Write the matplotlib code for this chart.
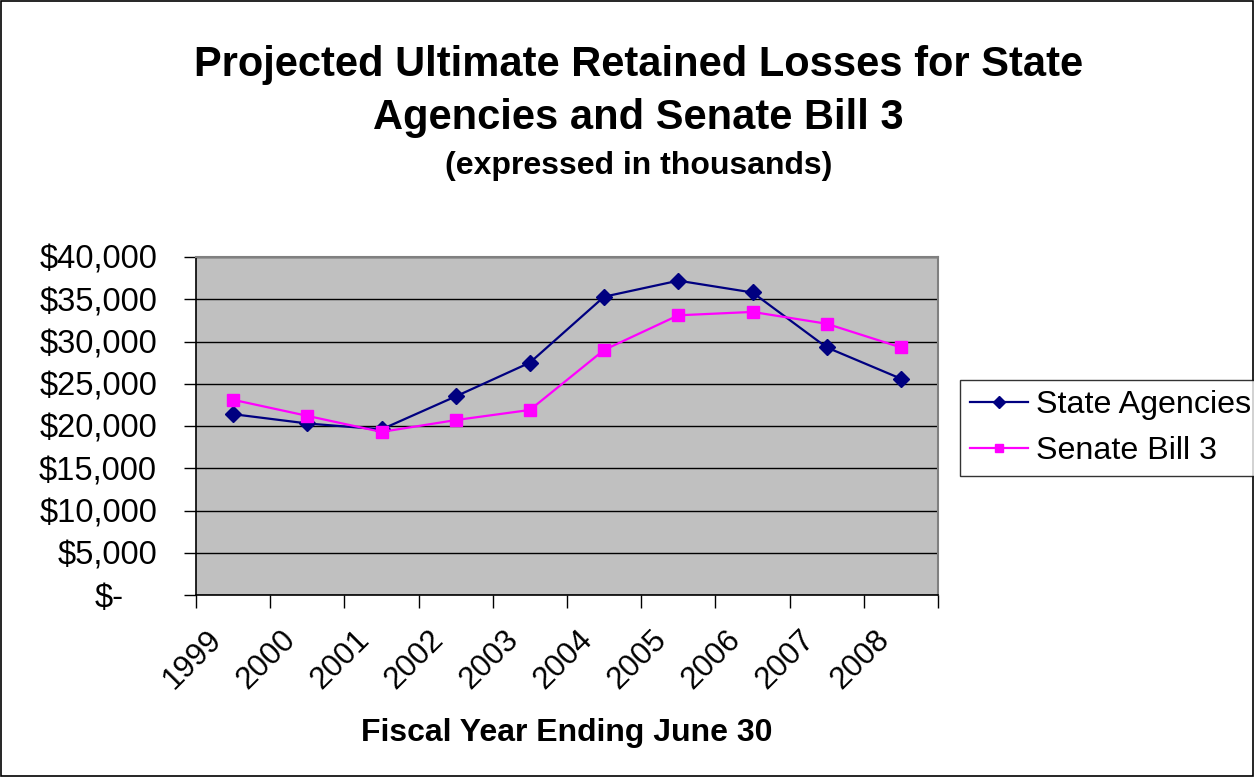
import numpy as np
import matplotlib
matplotlib.use("Agg")
import matplotlib.pyplot as plt
from matplotlib.patches import Rectangle
from matplotlib.ticker import FuncFormatter, FixedLocator
from matplotlib.transforms import ScaledTranslation

plt.rcParams['font.family'] = ['Liberation Sans', 'DejaVu Sans']

# data (thousands of dollars)
years = ['1999', '2000', '2001', '2002', '2003', '2004', '2005', '2006', '2007', '2008']
state_agencies = [21400, 20300, 19600, 23500, 27500, 35300, 37200, 35800, 29300, 25600]
senate_bill_3 = [23100, 21200, 19300, 20700, 21900, 29000, 33100, 33500, 32100, 29300]

fig = plt.figure(figsize=(12.54, 7.77), dpi=100)
ax = fig.add_axes([196/1254, 1 - 595/777, (938 - 196)/1254, (595 - 257)/777])

x = np.arange(len(years))
ax.plot(x, state_agencies, color='#000080', marker='D', markersize=8.5, lw=1.6,
        label='State Agencies', zorder=3)
ax.plot(x, senate_bill_3, color='#FF00FF', marker='s', markersize=8.5, lw=1.6,
        label='Senate Bill 3', zorder=3)

ax.set_facecolor('#C0C0C0')
ax.set_xlim(-0.5, len(years) - 0.5)
ax.set_ylim(0, 40000)
ax.set_yticks(np.arange(0, 40001, 5000))
ax.yaxis.set_major_formatter(FuncFormatter(lambda v, p: '$-' if v == 0 else f'${v:,.0f}'))
ax.grid(axis='y', color='black', lw=1)
ax.set_axisbelow(True)

# tick marks at category boundaries, labels at category centres
ax.xaxis.set_major_locator(FixedLocator(np.arange(-0.5, len(years), 1.0)))
ax.xaxis.set_major_formatter(FuncFormatter(lambda v, p: ''))
ax.xaxis.set_minor_locator(FixedLocator(x))
ax.set_xticklabels(years, minor=True, rotation=45, ha='right', va='top',
                   rotation_mode='anchor')
ax.tick_params(axis='x', which='minor', length=0, pad=21, labelsize=22.5)
ax.tick_params(axis='x', which='major', length=9, width=1, direction='out')
ax.tick_params(axis='y', length=9, width=1, direction='out', labelsize=23.5, pad=19)

shift = ScaledTranslation(-27/100, 0, fig.dpi_scale_trans)
for lbl in ax.get_xticklabels(minor=True):
    lbl.set_transform(lbl.get_transform() + shift)
# accounting style "$-" sits left of the other labels
zero_lbl = ax.get_yticklabels()[0]
zero_lbl.set_transform(zero_lbl.get_transform() + ScaledTranslation(-33/100, 0, fig.dpi_scale_trans))

for s in ['top', 'right']:
    ax.spines[s].set_color('#808080')
    ax.spines[s].set_linewidth(1.5)
for s in ['left', 'bottom']:
    ax.spines[s].set_color('black')
    ax.spines[s].set_linewidth(1.2)

fig.text(567/1254, 1 - 733/777, 'Fiscal Year Ending June 30',
         ha='center', va='center', fontsize=23, fontweight='bold')

fig.text(0.509, 1 - 65/777, 'Projected Ultimate Retained Losses for State',
         ha='center', va='center', fontsize=30, fontweight='bold')
fig.text(0.509, 1 - 118/777, 'Agencies and Senate Bill 3',
         ha='center', va='center', fontsize=30, fontweight='bold')
fig.text(0.509, 1 - 166/777, '(expressed in thousands)',
         ha='center', va='center', fontsize=23, fontweight='bold')

leg = fig.legend(loc='center left', bbox_to_anchor=(960/1254, 1 - 428/777),
                 fontsize=23.2, frameon=True, fancybox=False, handlelength=1.8,
                 borderpad=0.3, labelspacing=0.5, handletextpad=0.25, markerscale=0.7,
                 borderaxespad=0)
leg.get_frame().set_edgecolor('black')
leg.get_frame().set_linewidth(1.0)

fig.patches.append(Rectangle((0.001, 0.001), 0.998, 0.998, transform=fig.transFigure,
                             fill=False, edgecolor='black', lw=1.2))

fig.savefig('out.png', dpi=100)
